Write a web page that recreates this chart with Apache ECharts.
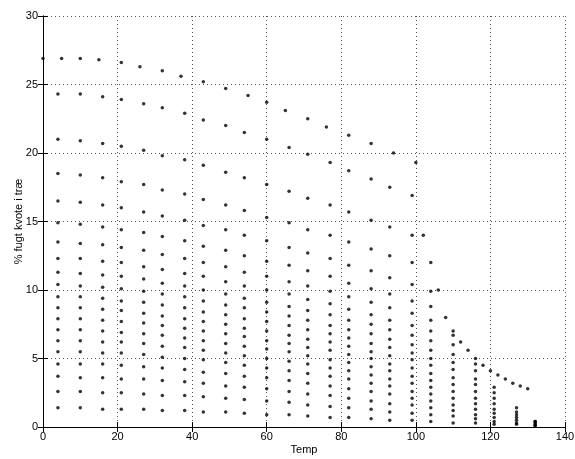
<!DOCTYPE html>
<html><head><meta charset="utf-8">
<script src="https://cdn.jsdelivr.net/npm/echarts@6/dist/echarts.min.js"></script>
<style>html,body{margin:0;padding:0;background:#fff}#c{width:575px;height:459px}</style>
</head><body><div id="c"></div>
<script>
// Temperatures (°C, rounded) of the columns for RH 5%..95%
const temps = [4,10,16,21,27,32,38,43,49,54,60,66,71,77,82,88,93,99,104,110,116,121,127,132];
// EMC (%) per temperature column, RH 5%,10%,...,95% (truncated where above saturation)
const c04  = [1.4,2.6,3.7,4.6,5.5,6.3,7.1,7.9,8.7,9.5,10.4,11.3,12.3,13.5,14.9,16.5,18.5,21.0,24.3];
const c10  = [1.4,2.6,3.6,4.6,5.5,6.3,7.1,7.9,8.7,9.5,10.3,11.2,12.3,13.4,14.8,16.4,18.4,20.9,24.3];
const c16  = [1.3,2.5,3.6,4.6,5.4,6.2,7.0,7.8,8.6,9.4,10.2,11.1,12.1,13.3,14.6,16.2,18.2,20.7,24.1];
const c21  = [1.3,2.5,3.5,4.5,5.4,6.2,6.9,7.7,8.5,9.2,10.1,11.0,12.0,13.1,14.4,16.0,17.9,20.5,23.9];
const c27  = [1.3,2.4,3.5,4.4,5.3,6.1,6.8,7.6,8.3,9.1,9.9,10.8,11.7,12.9,14.2,15.7,17.7,20.2,23.6];
const c32  = [1.2,2.3,3.4,4.3,5.1,5.9,6.7,7.4,8.1,8.9,9.7,10.5,11.5,12.6,13.9,15.4,17.3,19.8,23.3];
const c38  = [1.2,2.3,3.3,4.2,5.0,5.8,6.5,7.2,7.9,8.7,9.5,10.3,11.2,12.3,13.6,15.1,17.0,19.5,22.9];
const c43  = [1.1,2.2,3.2,4.0,4.9,5.6,6.3,7.0,7.7,8.4,9.2,10.0,11.0,12.0,13.2,14.7,16.6,19.1,22.4];
const c49  = [1.1,2.1,3.0,3.9,4.7,5.4,6.1,6.8,7.5,8.2,8.9,9.7,10.6,11.7,12.9,14.4,16.2,18.6,22.0];
const c54  = [1.0,2.0,2.9,3.7,4.5,5.2,5.9,6.6,7.2,7.9,8.7,9.4,10.3,11.3,12.5,14.0,15.8,18.2,21.5];
const c60  = [0.9,1.9,2.8,3.6,4.3,5.0,5.7,6.3,7.0,7.7,8.4,9.1,10.0,11.0,12.1,13.6,15.3,17.7,21.0];
const c66  = [0.9,1.8,2.6,3.4,4.1,4.8,5.5,6.1,6.7,7.4,8.1,8.8,9.7,10.6,11.8,13.1,14.9,17.2,20.4];
const c71  = [0.8,1.6,2.4,3.2,3.9,4.6,5.2,5.8,6.4,7.1,7.8,8.5,9.3,10.3,11.4,12.7,14.4,16.7,19.9];
const c77  = [0.7,1.5,2.3,3.0,3.7,4.3,4.9,5.6,6.2,6.8,7.4,8.2,9.0,9.9,11.0,12.3,14.0,16.2,19.3];
const c82  = [0.7,1.4,2.1,2.8,3.5,4.1,4.7,5.3,5.9,6.5,7.1,7.8,8.6,9.5,10.5,11.8,13.5,15.7,18.7];
const c88  = [0.6,1.3,1.9,2.6,3.2,3.8,4.4,5.0,5.5,6.1,6.8,7.5,8.2,9.1,10.1,11.4,13.0,15.1,18.1];
const c93  = [0.5,1.1,1.7,2.4,3.0,3.5,4.1,4.6,5.2,5.8,6.4,7.1,7.8,8.7,9.7,10.9,12.5,14.6,17.5];
const c99  = [0.5,1.0,1.6,2.1,2.6,3.2,3.7,4.3,4.9,5.4,6.0,6.7,7.4,8.3,9.2,10.4,12.0,14.0,16.9];
const c104 = [0.4,0.9,1.4,1.9,2.4,2.9,3.4,3.9,4.5,5.0,5.6,6.3,7.0,7.8,8.8,9.9];
const c110 = [0.3,0.8,1.2,1.6,2.1,2.6,3.1,3.6,4.2,4.7,5.3,6.0,6.7];
const c116 = [0.3,0.6,0.9,1.3,1.7,2.1,2.6,3.1,3.5,4.1,4.6];
const c121 = [0.2,0.4,0.7,1.0,1.3,1.7,2.1,2.5,2.9];
const c127 = [0.2,0.3,0.5,0.7,0.9,1.1,1.4];
const c132 = [0.1,0.1,0.2,0.3,0.4,0.4];
const columns = [c04,c10,c16,c21,c27,c32,c38,c43,c49,c54,c60,c66,c71,c77,c82,c88,c93,c99,c104,c110,c116,c121,c127,c132];
// RH 98% row
const top98x = [0,5,10,15,21,26,32,37,43,49,55,60,65,71,76,82,88,94,100];
const top98y = [26.9,26.9,26.9,26.8,26.6,26.3,26.0,25.6,25.2,24.7,24.2,23.7,23.1,22.5,21.9,21.3,20.7,20.0,19.3];
// Saturation limit above boiling
const satX = [102,104,106,108,110,112,114,116,118,120,122,124,126,128,130];
const satY = [14.0,12.0,10.0,8.0,7.0,6.2,5.6,5.0,4.5,4.1,3.8,3.5,3.2,3.0,2.8];
// Tick labels
const xTicks = [0,20,40,60,80,100,120,140];
const yTicks = [0,5,10,15,20,25,30];

const mainData = [];
columns.forEach((col,i)=>col.forEach(v=>mainData.push([temps[i],v])));
const topData = top98x.map((x,i)=>[x,top98y[i]]);
const satData = satX.map((x,i)=>[x,satY[i]]);

const font = 'Liberation Sans, Arial, Helvetica, sans-serif';
const gridLine = {show:true, lineStyle:{color:'#555', width:1, type:[1,3]}};
const chart = echarts.init(document.getElementById('c'), null, {renderer:'canvas'});
const baseX = {type:'value', min:xTicks[0], max:xTicks[xTicks.length-1], interval:20};
const baseY = {type:'value', min:yTicks[0], max:yTicks[yTicks.length-1], interval:5};
chart.setOption({
  animation:false,
  backgroundColor:'#fff',
  grid:{left:43, right:10, top:16, bottom:32, containLabel:false, outerBoundsMode:'none'},
  xAxis:[
    Object.assign({}, baseX, {
      position:'bottom',
      name:'Temp', nameLocation:'middle', nameGap:17, nameMoveOverlap:false,
      nameTextStyle:{color:'#000', fontSize:11, fontFamily:font},
      axisLine:{show:true, lineStyle:{color:'#000', width:1}},
      axisTick:{show:true, inside:true, length:5, lineStyle:{color:'#000'}},
      axisLabel:{color:'#000', fontSize:11, fontFamily:font, margin:4, formatter:v=>String(v)},
      splitLine:gridLine
    }),
    Object.assign({}, baseX, {
      position:'top',
      axisLine:{show:true, lineStyle:{color:'#000', width:1}},
      axisTick:{show:true, inside:true, length:5, lineStyle:{color:'#000'}},
      axisLabel:{show:false}, splitLine:{show:false}
    })
  ],
  yAxis:[
    Object.assign({}, baseY, {
      position:'left',
      name:'% fugt kvote i træ', nameLocation:'middle', nameGap:19, nameMoveOverlap:false,
      nameTextStyle:{color:'#000', fontSize:11, fontFamily:font},
      axisLine:{show:true, lineStyle:{color:'#000', width:1}},
      axisTick:{show:true, inside:true, length:5, lineStyle:{color:'#000'}},
      axisLabel:{color:'#000', fontSize:11, fontFamily:font, margin:5},
      splitLine:gridLine
    }),
    Object.assign({}, baseY, {
      position:'right',
      axisLine:{show:true, lineStyle:{color:'#000', width:1}},
      axisTick:{show:true, inside:true, length:5, lineStyle:{color:'#000'}},
      axisLabel:{show:false}, splitLine:{show:false}
    })
  ],
  series:[
    {type:'scatter', data:mainData, symbol:'circle', symbolSize:3.5, itemStyle:{color:'#000'}, xAxisIndex:0, yAxisIndex:0},
    {type:'scatter', data:topData, symbol:'circle', symbolSize:3.5, itemStyle:{color:'#000'}, xAxisIndex:0, yAxisIndex:0},
    {type:'scatter', data:satData, symbol:'circle', symbolSize:3.5, itemStyle:{color:'#000'}, xAxisIndex:0, yAxisIndex:0}
  ]
});
</script></body></html>
